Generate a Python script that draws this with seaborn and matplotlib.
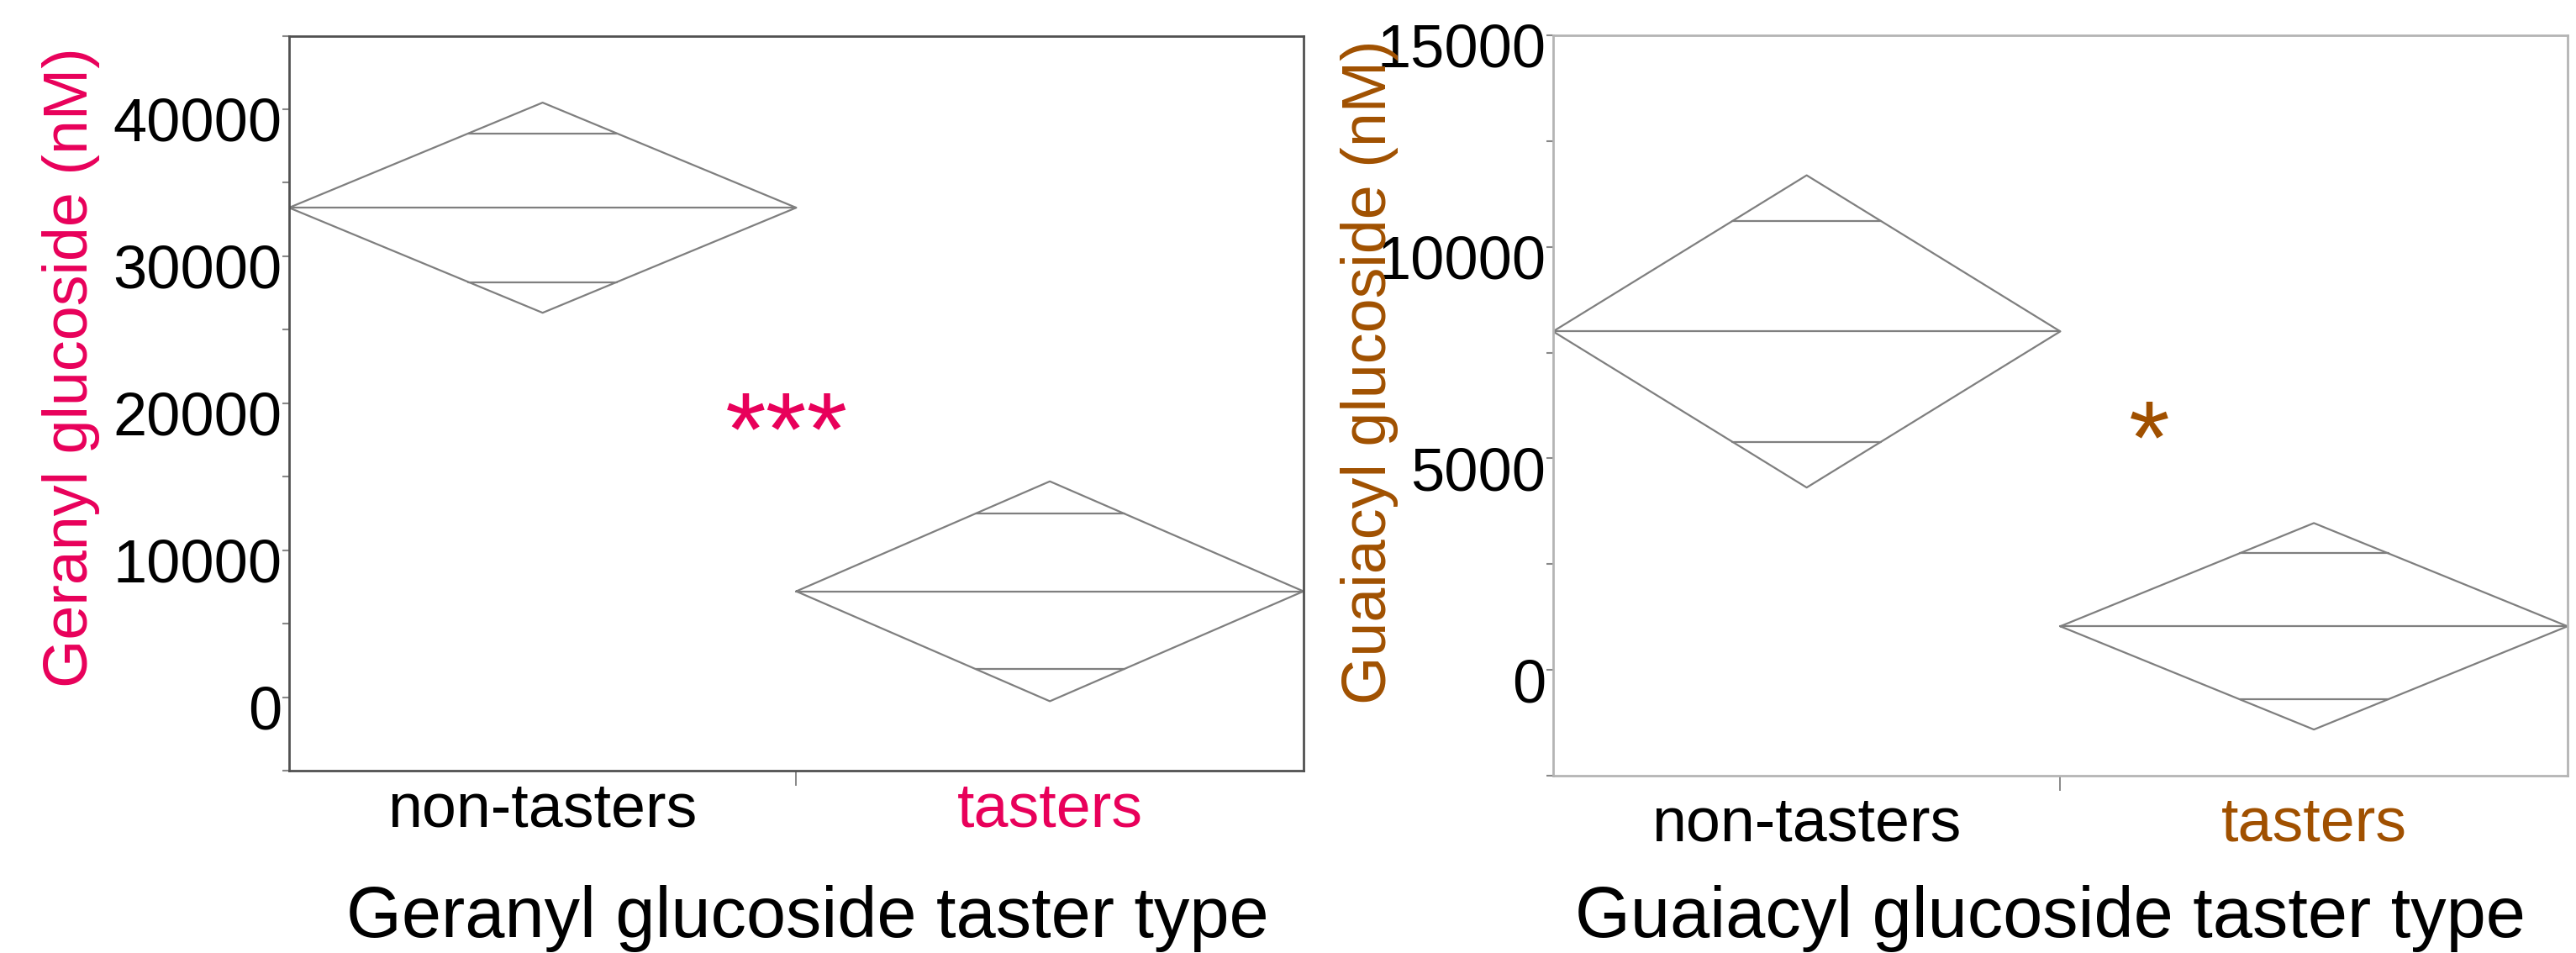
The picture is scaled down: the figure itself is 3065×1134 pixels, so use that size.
# Mean diamonds for glucoside levels by taster type

import numpy as np
import pandas as pd
import seaborn as sns
import matplotlib.pyplot as plt
from matplotlib.transforms import ScaledTranslation

# Values (nM)
categories = ["non-tasters", "tasters"]
geranyl_mean = [33300, 7200]
geranyl_ci = [7150, 7480]
guaiacyl_mean = [8000, 1030]
guaiacyl_ci = [3690, 2440]

pink = "#E8005A"
brown = "#A05000"

sns.set_theme(style="white")
plt.rcParams["font.family"] = ["Liberation Sans", "DejaVu Sans"]
plt.rcParams["text.color"] = "black"
plt.rcParams["axes.labelcolor"] = "black"
plt.rcParams["xtick.labelcolor"] = "black"
plt.rcParams["ytick.labelcolor"] = "black"


def diamond_frame(means, cis):
    # diamond outline, mean line and the two overlap marks for each group
    rows = []
    k = 0.5 * (1 - 1 / np.sqrt(2))
    for i, (m, c) in enumerate(zip(means, cis)):
        pts = [(i - 0.5, m), (i, m + c), (i + 0.5, m), (i, m - c), (i - 0.5, m)]
        for x, y in pts:
            rows.append((x, y, f"d{i}"))
        rows += [(i - 0.5, m, f"m{i}"), (i + 0.5, m, f"m{i}")]
        for s in (1, -1):
            yy = m + s * c / np.sqrt(2)
            rows += [(i - k, yy, f"o{i}{s}"), (i + k, yy, f"o{i}{s}")]
    return pd.DataFrame(rows, columns=["x", "y", "seg"])


def draw_panel(ax, means, cis, ylim, step, label_step, color, xlabel,
               stars, star_x, star_y, spine_color, xpad):
    df = diamond_frame(means, cis)
    sns.lineplot(data=df, x="x", y="y", units="seg", estimator=None, sort=False,
                 color="#7f7f7f", lw=1.6, ax=ax, legend=False)
    ax.set_xlim(-0.5, 1.5)
    ax.set_ylim(*ylim)

    ticks = np.arange(ylim[0], ylim[1] + 1, step)
    ax.set_yticks(ticks)
    ax.set_yticklabels([f"{t:.0f}" if t % label_step == 0 and t >= 0 else "" for t in ticks])
    ax.tick_params(axis="y", left=True, length=6, width=1.5, color="#888888",
                   pad=0, labelsize=52, labelcolor="black")
    for lab in ax.get_yticklabels():
        lab.set_transform(lab.get_transform() + ScaledTranslation(0, -0.12, ax.figure.dpi_scale_trans))

    ax.set_xticks([0, 1])
    ax.set_xticklabels(categories)
    ax.set_xticks([0.5], minor=True)
    ax.tick_params(axis="x", which="major", bottom=True, length=0, pad=xpad,
                   labelsize=53, labelcolor="black")
    ax.tick_params(axis="x", which="minor", bottom=True, length=13, width=1.4, color="#888888")
    ax.get_xticklabels()[1].set_color(color)

    for sp in ax.spines.values():
        sp.set_visible(True)
        sp.set_color(spine_color)
        sp.set_linewidth(2.0)

    ax.set_xlabel(xlabel, fontsize=61, va="baseline", color="black")
    ax.set_ylabel("")
    ax.text(star_x, star_y, stars, color=color, fontsize=90, ha="center", va="baseline")
    return ax


fig = plt.figure(figsize=(30.65, 11.34), dpi=100)

ax1 = fig.add_axes([0.1122, 0.1914, 0.3938, 0.7711])
draw_panel(ax1, geranyl_mean, geranyl_ci, (-5000, 45000), 5000, 10000, pink,
           "Geranyl glucoside taster type", "***", 0.481, 15800, "#505050", 9)
ax1.xaxis.set_label_coords(0.511, -0.226)
fig.text(0.0275, 0.6146, "Geranyl glucoside (nM)", rotation=90, color=pink,
         fontsize=53, ha="center", va="center")

ax2 = fig.add_axes([0.6029, 0.1861, 0.3938, 0.7769])
draw_panel(ax2, guaiacyl_mean, guaiacyl_ci, (-2500, 15000), 2500, 5000, brown,
           "Guaiacyl glucoside taster type", "*", 0.675, 4640, "#B4B4B4", 17)
ax2.xaxis.set_label_coords(0.49, -0.218)
fig.text(0.5315, 0.6093, "Guaiacyl glucoside (nM)", rotation=90, color=brown,
         fontsize=53, ha="center", va="center")

fig.savefig("out.png", dpi=100)
